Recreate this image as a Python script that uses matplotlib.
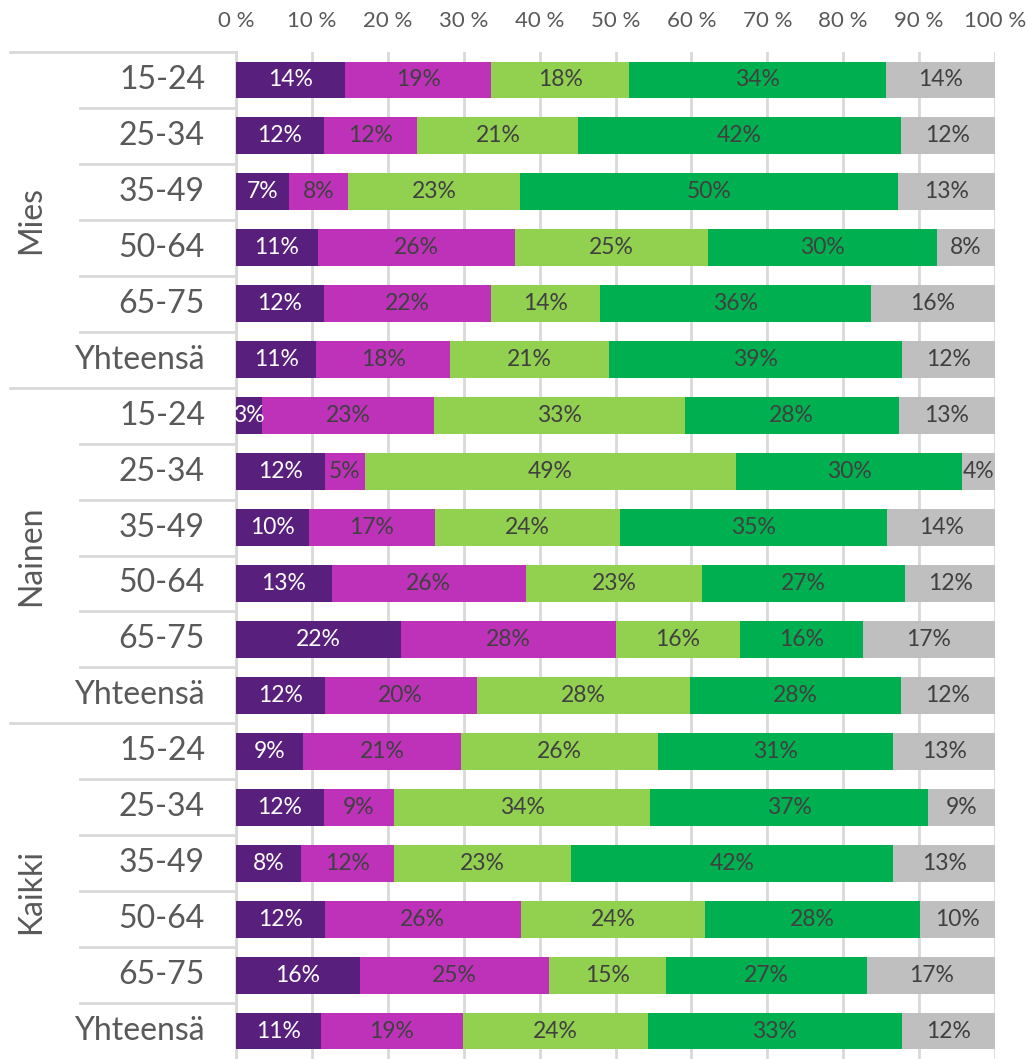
import matplotlib
matplotlib.use('Agg')
import matplotlib.pyplot as plt
import matplotlib.transforms as mtransforms
import numpy as np

groups = ['Mies', 'Nainen', 'Kaikki']
ages = ['15-24', '25-34', '35-49', '50-64', '65-75', 'Yhteensä']

# one list per segment, rows top to bottom: Mies, Nainen, Kaikki (6 rows each)
seg_1 = [14.4, 11.6, 7.0, 10.8, 11.6, 10.6,
         3.4, 11.7, 9.6, 12.6, 21.7, 11.7,
         8.8, 11.6, 8.5, 11.7, 16.3, 11.2]
seg_2 = [19.2, 12.3, 7.8, 26.0, 22.0, 17.6,
         22.7, 5.3, 16.6, 25.6, 28.3, 20.0,
         20.9, 9.2, 12.3, 25.8, 25.0, 18.7]
seg_3 = [18.2, 21.2, 22.6, 25.4, 14.4, 21.0,
         33.0, 48.9, 24.4, 23.2, 16.4, 28.1,
         25.9, 33.8, 23.4, 24.3, 15.3, 24.4]
seg_4 = [33.8, 42.5, 49.8, 30.1, 35.6, 38.6,
         28.2, 29.8, 35.2, 26.8, 16.2, 27.8,
         31.0, 36.6, 42.4, 28.3, 26.6, 33.4]
seg_5 = [14.4, 12.4, 12.8, 7.7, 16.4, 12.2,
         12.7, 4.3, 14.2, 11.8, 17.4, 12.4,
         13.4, 8.8, 13.4, 9.9, 16.8, 12.3]

colors = ['#581F7C', '#BE32BA', '#92D050', '#00B050', '#BFBFBF']
text_colors = ['white', '#404040', '#404040', '#404040', '#404040']

FONT = ['Lato', 'DejaVu Sans']
LABEL_GRAY = '#595959'
LINE_GRAY = '#D9D9D9'


def main() -> None:
    plt.rcParams['font.family'] = FONT
    W, H = 1027, 1059
    fig = plt.figure(figsize=(W / 100, H / 100), dpi=100)
    left, right, top = 236, 995, 52
    ax = fig.add_axes([left / W, 0, (right - left) / W, (H - top) / H])

    segments = [seg_1, seg_2, seg_3, seg_4, seg_5]
    n_rows = len(seg_1)
    y = np.arange(n_rows)
    start = np.zeros(n_rows)
    for values, color, tcolor in zip(segments, colors, text_colors):
        values = np.array(values)
        ax.barh(y, values, left=start, height=0.66, color=color, zorder=3)
        for yi, (s, v) in enumerate(zip(start, values)):
            ax.text(s + v / 2, yi, f'{round(v)}%', ha='center', va='center',
                    fontsize=16.5, color=tcolor, zorder=4)
        start = start + values

    ax.set_xlim(0, 100)
    ax.set_ylim(n_rows - 0.5, -0.5)
    ax.set_xticks(np.arange(0, 101, 10))
    ax.set_xticklabels([f'{t} %' for t in range(0, 101, 10)])
    ax.xaxis.tick_top()
    ax.tick_params(axis='x', length=0, pad=15, labelsize=16, labelcolor=LABEL_GRAY)
    ax.set_yticks([])
    ax.grid(axis='x', color=LINE_GRAY, linewidth=2, zorder=0)
    for side in ['top', 'right', 'bottom']:
        ax.spines[side].set_visible(False)
    ax.spines['left'].set_color(LINE_GRAY)
    ax.spines['left'].set_linewidth(2)

    # category labels and separator lines left of the bars
    trans = mtransforms.blended_transform_factory(ax.transAxes, ax.transData)
    x_outer = (10 - left) / (right - left)
    x_inner = (80 - left) / (right - left)
    x_age = (205 - left) / (right - left)
    x_group = (31 - left) / (right - left)
    for gi, group in enumerate(groups):
        base = gi * len(ages)
        ax.plot([x_outer, 0], [base - 0.5, base - 0.5], transform=trans,
                color=LINE_GRAY, linewidth=2, clip_on=False)
        for ai, age in enumerate(ages):
            row = base + ai
            if ai > 0:
                ax.plot([x_inner, 0], [row - 0.5, row - 0.5], transform=trans,
                        color=LINE_GRAY, linewidth=2, clip_on=False)
            ax.text(x_age, row, age, transform=trans, ha='right', va='center',
                    fontsize=23, color=LABEL_GRAY)
        ax.text(x_group, base + (len(ages) - 1) / 2, group, transform=trans,
                ha='center', va='center', rotation=90, fontsize=23, color=LABEL_GRAY)

    fig.savefig('out.png', dpi=100)


if __name__ == '__main__':
    main()
